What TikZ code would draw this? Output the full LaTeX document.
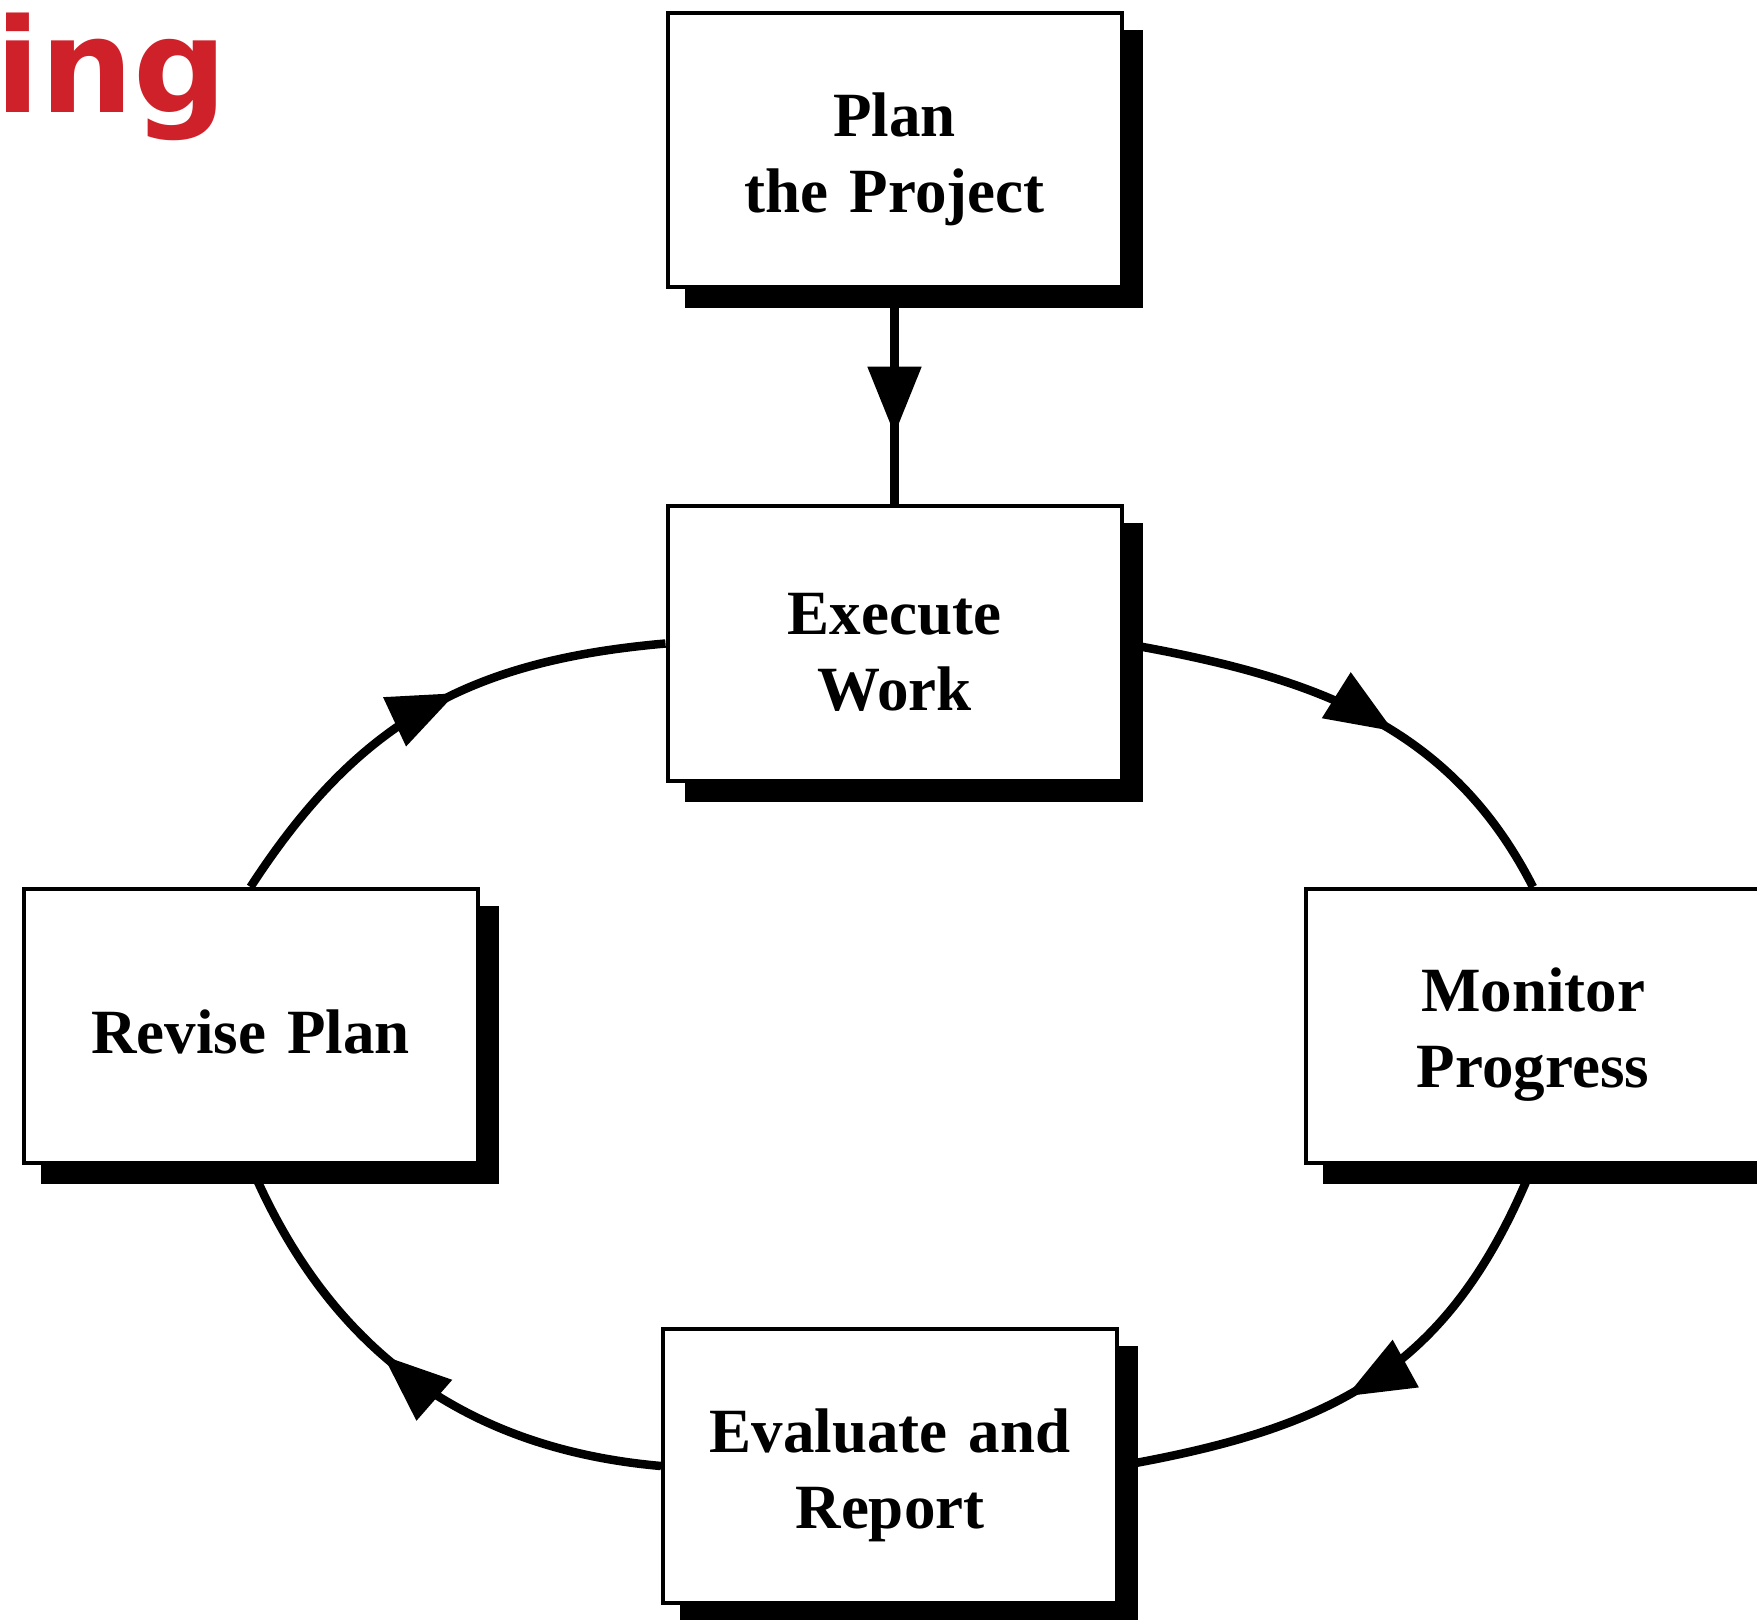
\documentclass[tikz,border=0pt]{standalone}
\usepackage{fontspec}
\setmainfont{Liberation Serif}[WordSpace=1.35]
\newfontfamily\headfont{DejaVu Sans}
\usetikzlibrary{arrows.meta,decorations.markings,calc}
\pgfdeclarelayer{curves}
\pgfdeclarelayer{shades}
\pgfsetlayers{curves,shades,main}
\definecolor{headred}{RGB}{207,33,41}
\tikzset{
  stagebox/.style={draw=black, fill=white, line width=2pt,
    minimum width=227pt, minimum height=137pt, inner sep=0pt},
  stagetext/.style={inner sep=0pt, align=center,
    font=\fontsize{31.5}{38}\selectfont\bfseries},
  flow/.style={line width=4.25pt},
  tipmark/.style={postaction={decorate},
    decoration={markings, mark=at position #1 with {\arrow{Triangle[length=34pt,width=26pt]}}}},
  boxshade/.style={fill=black}
}
\begin{document}
\begin{tikzpicture}[x=0.5pt,y=0.5pt]
\useasboundingbox (0,0) rectangle (1757,-1620);

% the five stage boxes
\node[stagebox] (plan) at (894.5,-150) {};
\node[stagebox] (exe)  at (894.5,-643.5) {};
\node[stagebox] (rev)  at (250.5,-1026) {};
\node[stagebox] (mon)  at (1533,-1026) {};
\node[stagebox] (eva)  at (890,-1466) {};

% their captions, set a little below each box centre
\node[stagetext] (plan-t) at ([yshift=-4.5pt]plan.center) {Plan\\the Project};
\node[stagetext] (exe-t)  at ([yshift=-4.5pt]exe.center) {Execute\\Work};
\node[stagetext] (rev-t)  at ([yshift=-3pt]rev.center) {Revise Plan};
\node[stagetext] (mon-t)  at ([yshift=-4.5pt]mon.center) {Monitor\\Progress};
\node[stagetext] (eva-t)  at ([yshift=-4.5pt]eva.center) {Evaluate and\\Report};

% heading fragment
\node[anchor=base west, inner sep=0pt, text=headred,
      font=\headfont\bfseries\fontsize{65.5}{74}\selectfont] (head) at (-5,-113) {ing};

% solid drop shadows under every box
\begin{pgfonlayer}{shades}
\foreach \n in {plan,exe,rev,mon,eva}
  \fill[boxshade] ($(\n.south west)+(19,-19)$) rectangle ($(\n.north east)+(19,-19)$);
\end{pgfonlayer}

% connectors of the cycle
\begin{pgfonlayer}{curves}
\draw[flow, tipmark=0.676] (plan.south) -- (exe.north);
\draw[flow, tipmark=0.575] (exe.east) to[out=-10,in=117] (mon.north);
\draw[flow, tipmark=0.56] (mon.south) to[out=-112,in=10,looseness=1.1] (eva.east);
\draw[flow, tipmark=0.565] (eva.west) to[out=175,in=-67] (rev.south);
\draw[flow, tipmark=0.57] (rev.north) to[out=57,in=185,looseness=1.05] (exe.west);
\end{pgfonlayer}
\end{tikzpicture}
\end{document}
